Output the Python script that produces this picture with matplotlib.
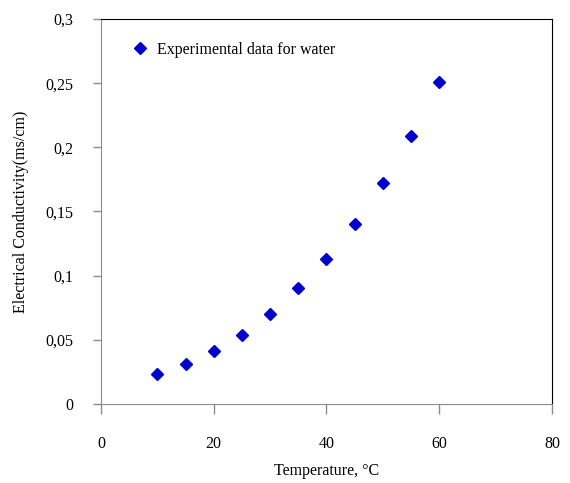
import numpy as np
import matplotlib.pyplot as plt
from matplotlib.ticker import FuncFormatter

# datos
temperatura = [10, 15, 20, 25, 30, 35, 40, 45, 50, 55, 60]
conductividad = [0.023, 0.031, 0.041, 0.054, 0.070, 0.090, 0.113, 0.140, 0.172, 0.209, 0.251]
xticks = [0, 20, 40, 60, 80]
yticks = [0, 0.05, 0.1, 0.15, 0.2, 0.25, 0.3]

plt.rcParams['font.family'] = ['Liberation Serif', 'DejaVu Serif']

fig = plt.figure(figsize=(5.7, 4.83), dpi=100)
ax = fig.add_axes([0.1772, 0.1636, 0.7912, 0.7971])

ax.plot(temperatura, conductividad, linestyle='none', marker='D', markersize=6.3,
        color='#0000CC', label='Experimental data for water')

ax.set_xlim(0, 80)
ax.set_ylim(0, 0.3)
ax.set_xticks(xticks)
ax.set_yticks(yticks)
ax.yaxis.set_major_formatter(FuncFormatter(lambda v, p: ('%g' % round(v, 3)).replace('.', ',')))

for s in ['left', 'bottom']:
    ax.spines[s].set_color('#8c8c8c')
for s in ['top', 'right']:
    ax.spines[s].set_color('black')
ax.tick_params(axis='x', direction='out', length=7, width=1, color='#8c8c8c',
               pad=16, labelsize=11.5)
ax.tick_params(axis='y', direction='out', length=6, width=1, color='#8c8c8c',
               pad=14, labelsize=11.5)

ax.set_xlabel('Temperature, °C', fontsize=11.5, labelpad=8)
ax.set_ylabel('Electrical Conductivity(ms/cm)', fontsize=11.5, labelpad=12)

ax.legend(loc='upper left', frameon=False, fontsize=11.5, handletextpad=0.3,
          handlelength=1.6, borderaxespad=0.8, bbox_to_anchor=(0.015, 0.99))

fig.savefig('out.png', dpi=100)
